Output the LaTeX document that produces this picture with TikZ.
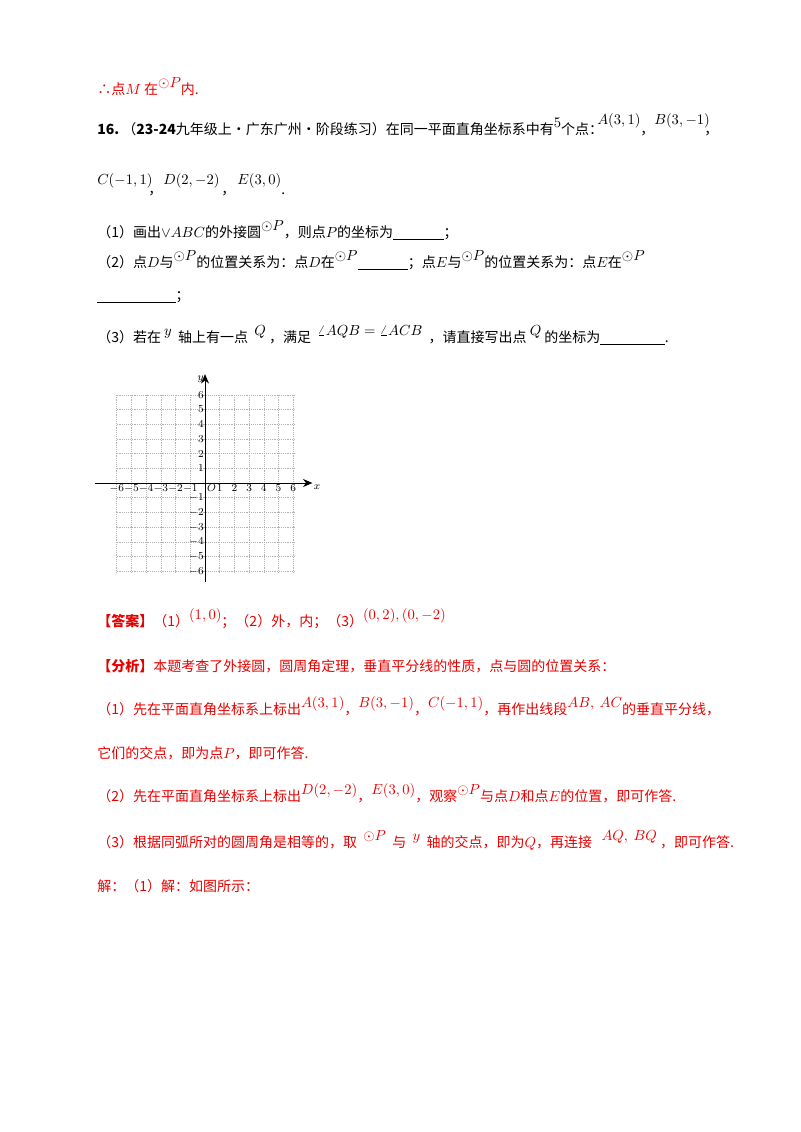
\documentclass[tikz,border=0pt]{standalone}
\usepackage{fontspec}
\setmainfont{Noto Sans CJK SC}
\usetikzlibrary{arrows.meta}
\begin{document}
\begin{tikzpicture}[x=0.75pt,y=-0.75pt,
    txt/.style={anchor=base west, inner sep=0pt, font=\fontsize{10.5}{12}\selectfont},
    ans/.style={txt, text=ansred},
    gridline/.style={gray!60, densely dotted, line width=0.4pt},
    axis/.style={-{Stealth[length=7pt,width=6pt]}, line width=0.6pt},
    tick/.style={font=\fontsize{8.5}{10}\selectfont, inner sep=0.8pt}
]
\definecolor{ansred}{RGB}{230,0,0}
\useasboundingbox (0,0) rectangle (800,1132);
\newcommand{\ul}[1]{\underline{\hspace{#1}}}
\newcommand{\up}[1]{\raisebox{0.9ex}{$#1$}}

% Red conclusion of the previous problem
\node[ans] (prev) at (97,94) {∴点$M$ 在\up{\odot P}内.};

% Problem statement
\node[txt] (q16) at (97,134) {\textbf{16.}\ （\textbf{23-24}九年级上·广东广州·阶段练习）在同一平面直角坐标系中有\up{5}个点：};
\node[txt] (ptA) at (597,124) {$A(3,1)$};
\node[txt] (cmA) at (640,134) {，};
\node[txt] (ptB) at (654,124) {$B(3,-1)$};
\node[txt] (cmB) at (704,134) {，};
\node[txt] (ptC) at (97,184) {$C(-1,1)$};
\node[txt] (cmC) at (148,194) {，};
\node[txt] (ptD) at (163,184) {$D(2,-2)$};
\node[txt] (cmD) at (221,194) {，};
\node[txt] (ptE) at (237,184) {$E(3,0)$};
\node[txt] (dtE) at (281,194) {.};

\node[txt] (q1) at (97,237) {（1）画出$\vee ABC$的外接圆\up{\odot P}，则点$P$的坐标为\ul{3.6em}；};
\node[txt] (q2) at (97,267) {（2）点$D$与\up{\odot P}的位置关系为：点$D$在\up{\odot P}\ul{3.6em}；点$E$与\up{\odot P}的位置关系为：点$E$在\up{\odot P}};
\node[txt] (q2b) at (97,300) {\ul{5.6em}；};
\node[txt] (q3) at (97,342) {（3）若在\up{\ y}\ \ 轴上有一点\up{\ \ Q}\ ，满足\ \ \up{\angle AQB=\angle ACB}\ \ ，请直接写出点\up{\ Q}\ 的坐标为\ul{4.6em}.};

% Coordinate grid
\begin{scope}[shift={(205,483)}, x=11.03pt, y=11.03pt]
  \foreach \i in {-6,...,6} {
    \draw[gridline] (\i,-6.1) -- (\i,6);
    \draw[gridline] (-6,\i) -- (6.1,\i);
  }
  \draw[axis] (-7.5,0) -- (7.3,0) node[tick, anchor=north west] (xlab) {$x$};
  \draw[axis] (0,-6.7) -- (0,7.4) node[tick, anchor=north east] (ylab) {$y$};
  \foreach \i in {-6,...,-1,1,2,...,6} {
    \node[tick, anchor=north] (xt\i) at (\i,0) {$\i$};
    \node[tick, anchor=east] (yt\i) at (0,\i) {$\i$};
  }
  \node[tick, anchor=north west] (orig) at (0.05,0) {$O$};
\end{scope}

% Answer and analysis
\node[ans] (answer) at (97,626) {\textbf{【答案】}（1）\up{(1,0)}；（2）外，内；（3）\up{(0,2),(0,-2)}};
\node[ans] (an0) at (97,671) {\textbf{【分析】}本题考查了外接圆，圆周角定理，垂直平分线的性质，点与圆的位置关系：};
\node[ans] (an1) at (97,714) {（1）先在平面直角坐标系上标出\up{A(3,1)}，\up{B(3,-1)}，\up{C(-1,1)}，再作出线段\up{AB,\ AC}的垂直平分线，};
\node[ans] (an1b) at (97,758) {它们的交点，即为点$P$，即可作答.};
\node[ans] (an2) at (97,801) {（2）先在平面直角坐标系上标出\up{D(2,-2)}，\up{E(3,0)}，观察\up{\odot P}与点$D$和点$E$的位置，即可作答.};
\node[ans] (an3) at (97,847) {（3）根据同弧所对的圆周角是相等的，取\ \ \up{\odot P}\ \ 与\ \ \up{y}\ \ 轴的交点，即为$Q$，再连接\ \ \ \up{AQ,\ BQ}\ ，即可作答.};
\node[ans] (sol) at (97,891) {解：（1）解：如图所示：};
\end{tikzpicture}
\end{document}
